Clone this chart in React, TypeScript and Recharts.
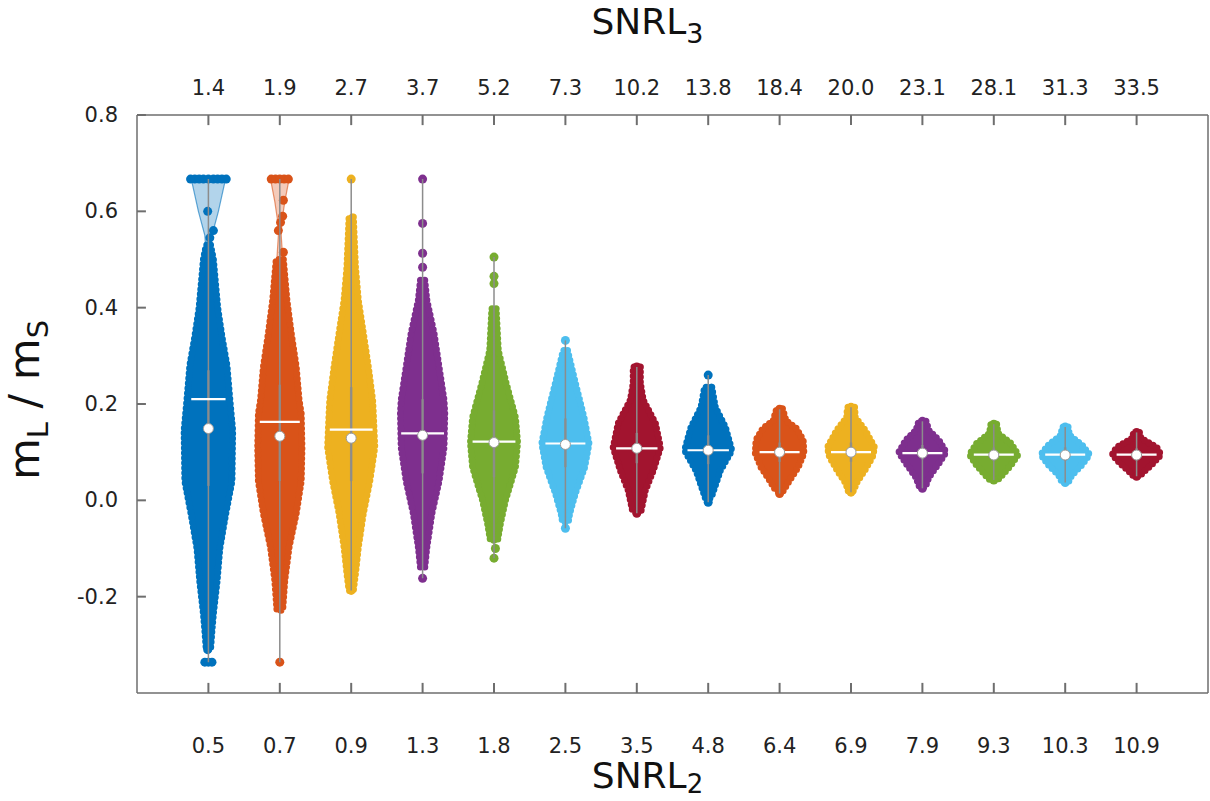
import React from 'react'
import { ComposedChart, Scatter, XAxis, YAxis, ReferenceLine } from 'recharts'

// Violin plot: m_L / m_S versus SNRL2 (bottom) and SNRL3 (top)

const FONT = '"DejaVu Sans", Verdana, sans-serif'
const AXIS = '#6e6e6e'

const POS = [1, 2, 3, 4, 5, 6, 7, 8, 9, 10, 11, 12, 13, 14]
const SNRL2 = ['0.5', '0.7', '0.9', '1.3', '1.8', '2.5', '3.5', '4.8', '6.4', '6.9', '7.9', '9.3', '10.3', '10.9']
const SNRL3 = ['1.4', '1.9', '2.7', '3.7', '5.2', '7.3', '10.2', '13.8', '18.4', '20.0', '23.1', '28.1', '31.3', '33.5']
const Y_TICKS = [-0.2, 0, 0.2, 0.4, 0.6, 0.8]
const X_DOMAIN = [0, 15]
const Y_DOMAIN = [-0.4, 0.8]
// inward tick lengths, in axis units (about 10px / 9px on this canvas)
const TICK_LEN_Y = 0.021
const TICK_LEN_X = 0.125

const COLORS = [
  '#0072BD', '#D95319', '#EDB120', '#7E2F8E', '#77AC30', '#4DBEEE', '#A2142F',
  '#0072BD', '#D95319', '#EDB120', '#7E2F8E', '#77AC30', '#4DBEEE', '#A2142F',
]

// swarm envelopes: [value, half width in category units], top to bottom
const ENV_1 = [[0.53, 0.03], [0.5, 0.07], [0.45, 0.1], [0.4, 0.13], [0.34, 0.19], [0.28, 0.26], [0.21, 0.3], [0.145, 0.34], [0.04, 0.33], [-0.03, 0.24], [-0.1, 0.16], [-0.17, 0.12], [-0.235, 0.07], [-0.27, 0.05], [-0.31, 0.03]]
const ENV_2 = [[0.5, 0.05], [0.415, 0.1], [0.347, 0.16], [0.277, 0.23], [0.208, 0.27], [0.18, 0.3], [0.11, 0.31], [0.04, 0.3], [-0.027, 0.23], [-0.097, 0.13], [-0.166, 0.07], [-0.228, 0.04]]
const ENV_3 = [[0.588, 0.03], [0.484, 0.06], [0.415, 0.1], [0.347, 0.17], [0.277, 0.24], [0.208, 0.3], [0.18, 0.31], [0.11, 0.33], [0.04, 0.26], [-0.027, 0.17], [-0.097, 0.1], [-0.152, 0.06], [-0.187, 0.03]]
const ENV_4 = [[0.457, 0.03], [0.415, 0.06], [0.347, 0.16], [0.277, 0.23], [0.208, 0.3], [0.18, 0.31], [0.11, 0.3], [0.04, 0.23], [-0.027, 0.13], [-0.097, 0.06], [-0.139, 0.03]]
const ENV_5 = [[0.398, 0.03], [0.311, 0.06], [0.243, 0.17], [0.172, 0.3], [0.12, 0.33], [0.069, 0.3], [0.0, 0.16], [-0.048, 0.09], [-0.083, 0.05]]
const ENV_6 = [[0.311, 0.03], [0.243, 0.14], [0.172, 0.26], [0.118, 0.33], [0.069, 0.27], [0.015, 0.14], [-0.027, 0.06], [-0.045, 0.04]]
const ENV_7 = [[0.277, 0.05], [0.243, 0.05], [0.208, 0.09], [0.16, 0.26], [0.11, 0.33], [0.062, 0.23], [0.021, 0.12], [-0.021, 0.06]]
const ENV_8 = [[0.235, 0.05], [0.193, 0.1], [0.152, 0.24], [0.104, 0.33], [0.062, 0.17], [0.027, 0.09], [0.005, 0.04]]
const ENV_9 = [[0.19, 0.04], [0.165, 0.09], [0.15, 0.23], [0.125, 0.33], [0.098, 0.34], [0.069, 0.26], [0.042, 0.14], [0.02, 0.05]]
const ENV_10 = [[0.193, 0.05], [0.172, 0.06], [0.145, 0.2], [0.11, 0.33], [0.09, 0.3], [0.062, 0.19], [0.035, 0.07], [0.02, 0.04]]
const ENV_11 = [[0.164, 0.05], [0.145, 0.09], [0.125, 0.23], [0.1, 0.33], [0.077, 0.23], [0.048, 0.09], [0.028, 0.04]]
const ENV_12 = [[0.158, 0.04], [0.139, 0.06], [0.118, 0.24], [0.095, 0.34], [0.073, 0.24], [0.048, 0.09], [0.042, 0.05]]
const ENV_13 = [[0.152, 0.04], [0.135, 0.06], [0.114, 0.24], [0.095, 0.34], [0.073, 0.23], [0.052, 0.09], [0.037, 0.04]]
const ENV_14 = [[0.141, 0.04], [0.129, 0.06], [0.11, 0.28], [0.095, 0.34], [0.077, 0.23], [0.058, 0.09], [0.05, 0.04]]
const ENVELOPES = [ENV_1, ENV_2, ENV_3, ENV_4, ENV_5, ENV_6, ENV_7, ENV_8, ENV_9, ENV_10, ENV_11, ENV_12, ENV_13, ENV_14]

// thin density caps that show above the swarm (first two groups only)
const CAP_1 = [[0.667, 0.24], [0.6, 0.14], [0.55, 0.05], [0.505, 0.03], [0.45, 0.08]]
const CAP_2 = [[0.667, 0.13], [0.62, 0.07], [0.58, 0.03], [0.55, 0.02], [0.48, 0.05]]
const CAPS: (number[][] | null)[] = [CAP_1, CAP_2, null, null, null, null, null, null, null, null, null, null, null, null]

// isolated points: [value, x offset]
const DOTS_1 = [[0.667, -0.25], [0.667, -0.19], [0.667, -0.13], [0.667, -0.07], [0.667, 0], [0.667, 0.07], [0.667, 0.13], [0.667, 0.19], [0.667, 0.25], [0.6, -0.01], [0.56, 0.07], [0.545, 0.02], [-0.29, 0.01], [-0.31, -0.01], [-0.336, -0.05], [-0.336, 0], [-0.336, 0.05]]
const DOTS_2 = [[0.667, -0.12], [0.667, -0.06], [0.667, 0], [0.667, 0.06], [0.667, 0.12], [0.623, 0.05], [0.59, 0.04], [0.577, 0.01], [0.56, -0.02], [0.515, 0.05], [0.478, -0.02], [-0.336, 0]]
const DOTS_3 = [[0.667, 0], [-0.187, 0]]
const DOTS_4 = [[0.667, 0], [0.575, 0], [0.513, 0], [0.484, 0], [-0.162, 0]]
const DOTS_5 = [[0.505, 0], [0.465, 0], [0.45, 0], [-0.1, 0.02], [-0.12, 0]]
const DOTS_6 = [[0.332, 0], [-0.058, 0]]
const DOTS_7 = [[0.277, 0], [-0.027, 0]]
const DOTS_8 = [[0.26, 0], [-0.004, 0]]
const DOTS_9 = [[0.189, 0], [0.014, 0]]
const DOTS_10 = [[0.193, 0], [0.017, 0]]
const DOTS_11 = [[0.164, 0], [0.025, 0]]
const DOTS_12 = [[0.158, 0], [0.042, 0]]
const DOTS_13 = [[0.152, 0], [0.037, 0]]
const DOTS_14 = [[0.141, 0], [0.05, 0]]
const DOTS = [DOTS_1, DOTS_2, DOTS_3, DOTS_4, DOTS_5, DOTS_6, DOTS_7, DOTS_8, DOTS_9, DOTS_10, DOTS_11, DOTS_12, DOTS_13, DOTS_14]

const MAXS = [0.667, 0.667, 0.667, 0.667, 0.505, 0.332, 0.277, 0.26, 0.189, 0.193, 0.164, 0.158, 0.152, 0.141]
const MINS = [-0.336, -0.336, -0.187, -0.162, -0.12, -0.058, -0.027, -0.004, 0.014, 0.017, 0.025, 0.042, 0.037, 0.05]
const Q1 = [0.03, 0.04, 0.04, 0.056, 0.048, 0.069, 0.077, 0.075, 0.08, 0.08, 0.085, 0.082, 0.082, 0.083]
const Q3 = [0.27, 0.24, 0.235, 0.21, 0.187, 0.17, 0.14, 0.135, 0.12, 0.12, 0.115, 0.11, 0.11, 0.108]
const MEANS = [0.21, 0.163, 0.147, 0.139, 0.122, 0.118, 0.108, 0.104, 0.1, 0.1, 0.098, 0.095, 0.095, 0.095]
const MEAN_W = [0.24, 0.28, 0.3, 0.3, 0.3, 0.28, 0.29, 0.29, 0.28, 0.28, 0.28, 0.28, 0.28, 0.28]
const MEDIANS = [0.149, 0.133, 0.129, 0.135, 0.12, 0.116, 0.108, 0.104, 0.1, 0.1, 0.098, 0.094, 0.094, 0.094]

const outline = (pos: number, env: number[][]) => {
  const right = env.map(([y, w]) => ({ x: pos + w, y }))
  const left = [...env].reverse().map(([y, w]) => ({ x: pos - w, y }))
  return [...right, ...left]
}

const Empty = () => <g />

const BottomTick = ({ x, y, payload }: any) => (
  <text x={x} y={y + 60} textAnchor="middle" fontFamily={FONT} fontSize={21} fill="#222">
    {SNRL2[payload.value - 1]}
  </text>
)

const TopTick = ({ x, y, payload }: any) => (
  <text x={x} y={y - 20} textAnchor="middle" fontFamily={FONT} fontSize={21} fill="#222">
    {SNRL3[payload.value - 1]}
  </text>
)

const LeftTick = ({ x, y, payload }: any) => (
  <text x={x - 19} y={y + 7} textAnchor="end" fontFamily={FONT} fontSize={21} fill="#222">
    {Number(payload.value).toFixed(1)}
  </text>
)

const TopTitle = ({ viewBox }: any) => (
  <text x={viewBox.x + viewBox.width / 2 - 25} y={viewBox.y + viewBox.height - 81} textAnchor="middle" fontFamily={FONT} fontSize={36} fill="#111">
    SNRL<tspan fontSize={27} dy={9}>3</tspan>
  </text>
)

const BottomTitle = ({ viewBox }: any) => (
  <text x={viewBox.x + viewBox.width / 2 - 25} y={viewBox.y + 95} textAnchor="middle" fontFamily={FONT} fontSize={36} fill="#111">
    SNRL<tspan fontSize={26} dy={5}>2</tspan>
  </text>
)

const YTitle = ({ viewBox }: any) => {
  const cx = 39
  const cy = viewBox.y + viewBox.height / 2 - 4
  return (
    <text x={cx} y={cy} transform={`rotate(-90 ${cx} ${cy})`} textAnchor="middle" fontFamily={FONT} fontSize={43} fill="#111">
      m<tspan fontSize={29} dy={9}>L</tspan><tspan dy={-9}> / m</tspan><tspan fontSize={29} dy={9}>S</tspan>
    </text>
  )
}

const axisProps = {
  axisLine: { stroke: AXIS, strokeWidth: 1.5 },
  tickLine: false,
  tickSize: 0,
  tickMargin: 0,
  interval: 0 as const,
  allowDataOverflow: true,
}

export default function App() {
  return (
    <div style={{ position: 'absolute', left: 0, top: 0, width: 1210, height: 801, background: '#fff' }}>
      <ComposedChart width={1210} height={801} margin={{ top: 85, right: 2, bottom: 78, left: 77 }}>
        <XAxis
          {...axisProps} dataKey="x" type="number" domain={X_DOMAIN} ticks={POS} height={30}
          tick={<BottomTick />} label={{ content: <BottomTitle /> }}
        />
        <XAxis
          {...axisProps} xAxisId="top" orientation="top" dataKey="x" type="number" domain={X_DOMAIN} ticks={POS} height={30}
          tick={<TopTick />} label={{ content: <TopTitle /> }}
        />
        <YAxis
          {...axisProps} dataKey="y" type="number" domain={Y_DOMAIN} ticks={Y_TICKS} width={60}
          tick={<LeftTick />} label={{ content: <YTitle /> }}
        />
        <ReferenceLine x={X_DOMAIN[1]} stroke={AXIS} strokeWidth={1.5} />

        {/* inward tick marks on the frame */}
        {POS.map(p => (
          <ReferenceLine key={`tt${p}`} segment={[{ x: p, y: Y_DOMAIN[1] }, { x: p, y: Y_DOMAIN[1] - TICK_LEN_Y }]}
            stroke={AXIS} strokeWidth={2} ifOverflow="extendDomain" />
        ))}
        {POS.map(p => (
          <ReferenceLine key={`tb${p}`} segment={[{ x: p, y: Y_DOMAIN[0] }, { x: p, y: Y_DOMAIN[0] + TICK_LEN_Y }]}
            stroke={AXIS} strokeWidth={2} ifOverflow="extendDomain" />
        ))}
        {Y_TICKS.map(t => (
          <ReferenceLine key={`tl${t}`} segment={[{ x: X_DOMAIN[0], y: t }, { x: X_DOMAIN[0] + TICK_LEN_X, y: t }]}
            stroke={AXIS} strokeWidth={2} ifOverflow="extendDomain" />
        ))}

        {/* ties the top (SNRL3) axis to the same group positions */}
        <Scatter xAxisId="top" data={POS.map((p, i) => ({ x: p, y: MEDIANS[i] }))} shape={<Empty />}
          isAnimationActive={false} legendType="none" />

        {POS.map((p, i) => {
          const c = COLORS[i]
          const cap = CAPS[i]
          const out = [] as React.ReactNode[]
          if (cap) {
            out.push(
              <Scatter key={`cap${i}`} data={outline(p, cap)} shape={<Empty />} isAnimationActive={false}
                line={{ stroke: c, strokeWidth: 1.2, fill: c, fillOpacity: 0.3, strokeOpacity: 0.6 }}
                lineJointType="linearClosed" legendType="none" />
            )
          }
          out.push(
            // swarm body: filled envelope with a dotted rim standing in for the edge markers
            <Scatter key={`env${i}`} data={outline(p, ENVELOPES[i])} shape={<Empty />} isAnimationActive={false}
              line={{ stroke: c, strokeWidth: 7, fill: c, strokeDasharray: '0 5', strokeLinecap: 'round', strokeLinejoin: 'round' }}
              lineJointType="linearClosed" legendType="none" />,
            <Scatter key={`dots${i}`} data={DOTS[i].map(([y, dx]) => ({ x: p + dx, y }))} isAnimationActive={false}
              shape={(s: any) => <circle cx={s.cx} cy={s.cy} r={4.5} fill={c} />} legendType="none" />,
            <Scatter key={`wh${i}`} data={[{ x: p, y: MINS[i] }, { x: p, y: MAXS[i] }]} shape={<Empty />}
              isAnimationActive={false} line={{ stroke: '#8c8c8c', strokeWidth: 1.5 }} legendType="none" />,
            <Scatter key={`iqr${i}`} data={[{ x: p, y: Q1[i] }, { x: p, y: Q3[i] }]} shape={<Empty />}
              isAnimationActive={false} line={{ stroke: '#8c8c8c', strokeWidth: 2.5, strokeOpacity: 0.8 }} legendType="none" />,
            <Scatter key={`mean${i}`} data={[{ x: p - MEAN_W[i], y: MEANS[i] }, { x: p + MEAN_W[i], y: MEANS[i] }]}
              shape={<Empty />} isAnimationActive={false} line={{ stroke: '#ffffff', strokeWidth: 2.2 }} legendType="none" />,
            <Scatter key={`med${i}`} data={[{ x: p, y: MEDIANS[i] }]} isAnimationActive={false} legendType="none"
              shape={(s: any) => <circle cx={s.cx} cy={s.cy} r={5} fill="#ffffff" stroke="#9a9a9a" strokeWidth={1} />} />,
          )
          return out
        })}
      </ComposedChart>
    </div>
  )
}
